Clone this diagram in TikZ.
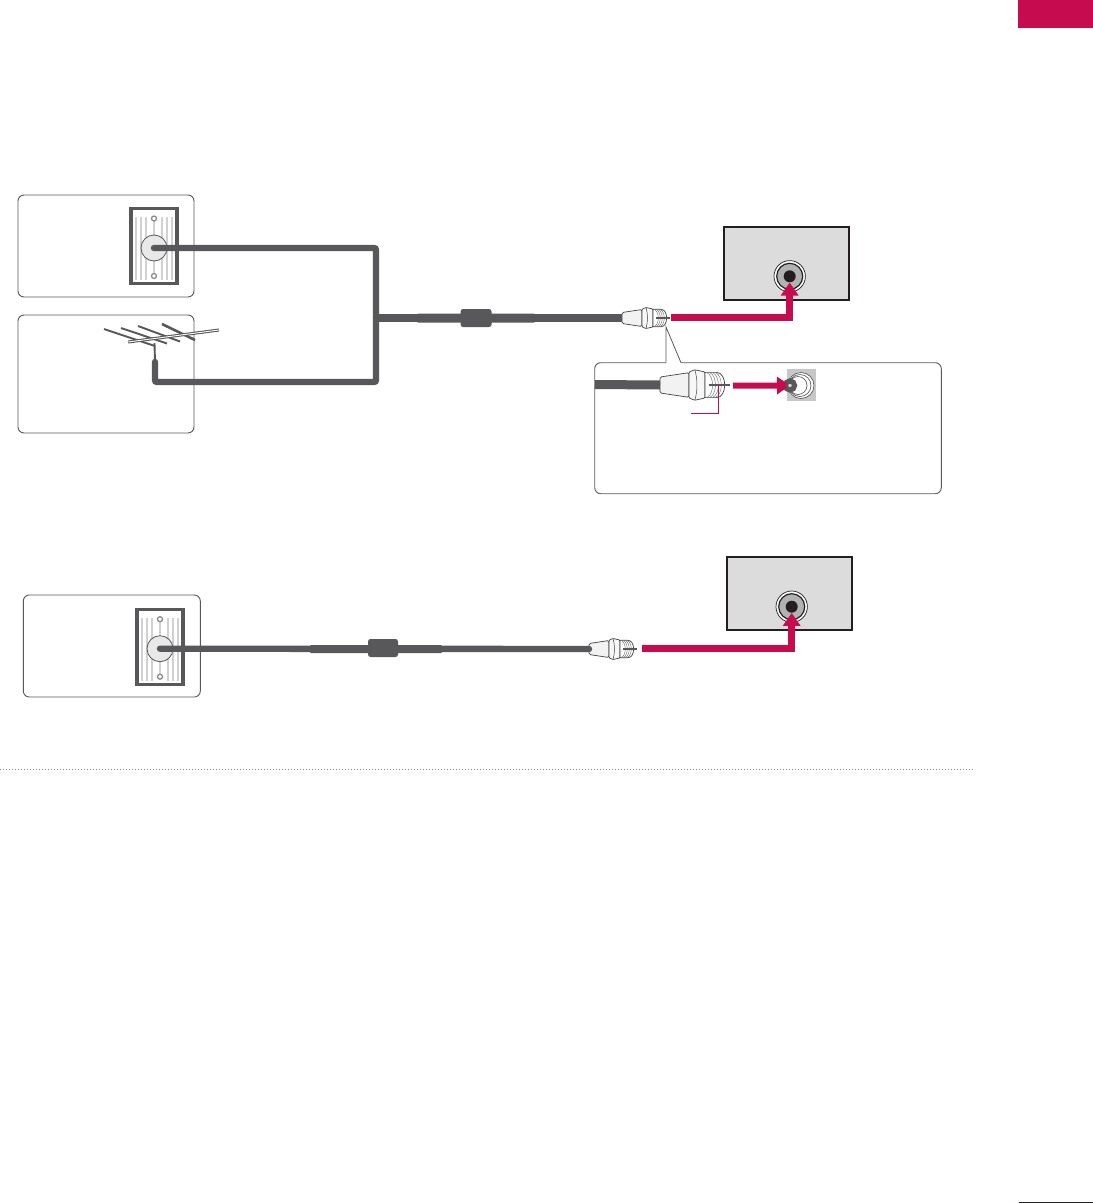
\documentclass[tikz,border=0pt]{standalone}
\usetikzlibrary{arrows.meta}
\definecolor{lgred}{HTML}{C60B4E}
\definecolor{cablegray}{HTML}{58585A}
\definecolor{panelgray}{HTML}{DCDCDC}
\definecolor{tvblack}{HTML}{231F20}
\tikzset{
  panel/.style={draw=cablegray, line width=0.9pt, fill=white, rounded corners=6pt},
  tvbox/.style={draw=tvblack, line width=2.2pt, fill=panelgray, minimum width=125pt, minimum height=73pt},
  coax/.style={draw=cablegray, line width=6.4pt, rounded corners=2pt},
  sleeve/.style={fill=cablegray, minimum height=8pt, inner sep=0pt, rounded corners=1pt},
  ferrite/.style={fill=cablegray, minimum width=31pt, minimum height=18pt, inner sep=0pt, rounded corners=2.5pt},
  feed/.style={draw=lgred, line width=7pt, -{Triangle[width=17pt,length=13pt]}},
  rod/.style={draw=cablegray, line width=1.9pt},
  wallplate/.pic={
    \draw[draw=cablegray, line width=3.2pt, fill=white] (-23,-39.5) rectangle (23,35.5);
    \foreach \hx in {-18,-13,-8,8,13,18}
      \draw[draw=black!18, line width=1.1pt] (\hx,-31) -- (\hx,32);
    \draw[draw=black!18, line width=1.1pt] (0,-31) -- (0,28);
    \foreach \sy in {-29.5,28}
      \draw[draw=black!45, line width=1.3pt, fill=white] (0,\sy) circle [radius=2.5pt];
    \node[circle, draw=cablegray, line width=0.8pt, fill=black!9, minimum size=26pt, inner sep=0pt] (-jack) at (0,0) {};
  },
  fplug/.pic={
    \coordinate (-tail) at (0,0);
    \draw[draw=black!75, line width=0.7pt, fill=black!5, rounded corners=1.5pt] (0,-5.5) -- (20,-8.5) -- (20,8.5) -- (0,5.5) -- cycle;
    \draw[draw=black!75, line width=0.7pt, fill=black!3, rounded corners=1pt] (20,-9) -- (24,-10.5) -- (31,-9) -- (31,9) -- (24,10.5) -- (20,9) -- cycle;
    \draw[draw=black!75, line width=0.5pt] (24,-10.5) .. controls (26,-4) and (26,4) .. (24,10.5);
    \draw[draw=black!75, line width=0.7pt, fill=white] (31,-8.7) -- (39,-8.7) .. controls (46.5,-8.7) and (46.5,8.7) .. (39,8.7) -- (31,8.7) -- cycle;
    \foreach \tx in {32.5,34.5,36.5,38.5}
      \draw[draw=black!60, line width=0.4pt] (\tx,-8.5) .. controls (\tx+5,-6) and (\tx+5,6) .. (\tx,8.5);
    \fill[cablegray] (34,-0.9) rectangle (48,0.9);
  },
  tvjack/.pic={
    \draw[draw=tvblack, line width=0.7pt, fill=white] (0,0) circle [radius=15.7pt];
    \draw[draw=tvblack, line width=1.2pt, fill=black!30] (0,0) circle [radius=13pt];
    \node[circle, fill=tvblack, minimum size=12pt, inner sep=0pt] (-hole) at (0,0) {};
  }
}
\begin{document}
\begin{tikzpicture}[x=1pt, y=-1pt]
  \useasboundingbox (0,0) rectangle (1093,1203);
  \node[fill=lgred, minimum width=75pt, minimum height=28pt, inner sep=0pt] (tab) at (1055.5,14) {};
  \coordinate (folioa) at (1019,1202);
  \coordinate (foliob) at (1093,1202);
  \draw[draw=tvblack, line width=1pt] (folioa) -- (foliob);

  \node[panel, minimum width=176pt, minimum height=102pt] (wallbox) at (106,246) {};
  \node[panel, minimum width=176pt, minimum height=118pt] (antbox) at (106,374) {};
  \pic (plate) at (154,248) {wallplate};
  \node[tvbox] (tv) at (786.8,263.3) {};
  \pic (jack) at (789.7,276.3) {tvjack};

  \coordinate (antfoot) at (155,362);
  \coordinate (antmast) at (154.5,343);
  \coordinate (tee) at (376,318);
  \coordinate (lowcorner) at (376,382);
  \coordinate (boomleft) at (128,342);
  \coordinate (boomright) at (219,330);
  \draw[rod] (104,329) -- (155,346);
  \draw[rod] (121,328) -- (167,343.5);
  \draw[rod] (138,326) -- (180,341.5);
  \draw[rod, line width=2.6pt] (162,324) -- (195,340);
  \draw[rod, line width=3pt] (boomleft) -- (boomright);
  \draw[draw=white, line width=0.9pt] (boomleft) -- (boomright);
  \draw[rod] (antmast) -- (antfoot);
  \draw[coax, line cap=round] (plate-jack.center) -| (tee);
  \draw[coax, line cap=round] (antfoot) |- (lowcorner) -- (tee);
  \pic (plug) at (622,318) {fplug};
  \draw[coax, line width=7.4pt, rounded corners=0pt] (tee) -- (plug-tail);
  \node[sleeve, minimum width=118pt, minimum height=9pt] (sleevea) at (476,318) {};
  \node[ferrite] (chokea) at (476,318) {};
  \coordinate (feedstart) at (671,317);
  \draw[feed] (feedstart) -| (jack-hole);

  \node[panel, draw=black!65, minimum width=346.6pt, minimum height=131pt] (callout) at (768,428.2) {};
  \coordinate (leadtop) at (666,327);
  \coordinate (leadl) at (666,362.7);
  \coordinate (leadr) at (681,362.7);
  \draw[draw=white, line width=1.6pt] (leadl) -- (leadr);
  \draw[draw=black!65, line width=0.8pt] (leadl) -- (leadtop) -- (leadr);
  \pic[scale=1.45] (bigplug) at (660,385) {fplug};
  \coordinate (calloutcable) at (595,384.5);
  \draw[coax, line width=9pt, rounded corners=0pt] (calloutcable) -- (bigplug-tail);
  \node[fill=black!22, minimum width=29pt, minimum height=32pt, inner sep=0pt] (socketbg) at (801.5,385) {};
  \foreach \rr/\cx in {13/801,11/800,9/798}
    \draw[draw=black!70, line width=0.6pt, fill=white] (\cx,385.5) circle [radius=\rr pt];
  \node[circle, draw=cablegray, line width=3.4pt, fill=black!15, minimum size=11pt, inner sep=0pt] (socket) at (790,385.5) {};
  \coordinate (bigstart) at (733,385.7);
  \draw[feed, line width=6pt] (bigstart) -- (socket.center);
  \node[circle, draw=cablegray, line width=2.2pt, fill=black!15, minimum size=6pt, inner sep=0pt] (sockethole) at (790,385.5) {};
  \coordinate (tagend) at (691,413);
  \coordinate (tagpin) at (718,385);
  \draw[draw=lgred, line width=0.9pt] (tagend) -| (tagpin);

  \node[panel, minimum width=177pt, minimum height=102pt] (wallboxb) at (111.8,646) {};
  \pic (plateb) at (160,648.7) {wallplate};
  \node[tvbox] (tvb) at (789.2,593.3) {};
  \pic (jackb) at (791.7,606.7) {tvjack};
  \pic (plugb) at (589,649) {fplug};
  \draw[coax, line cap=round, rounded corners=0pt] (plateb-jack.center) -- (plugb-tail);
  \node[sleeve, minimum width=132pt] (sleeveb) at (376,649) {};
  \node[ferrite, minimum width=30pt] (chokeb) at (383,648) {};
  \coordinate (feedstartb) at (642,648.7);
  \draw[feed] (feedstartb) -| (jackb-hole);

  \coordinate (rulea) at (0,769.5);
  \coordinate (ruleb) at (974,769.5);
  \draw[draw=black!45, line width=0.8pt, dash pattern=on 1pt off 2pt] (rulea) -- (ruleb);
\end{tikzpicture}
\end{document}
